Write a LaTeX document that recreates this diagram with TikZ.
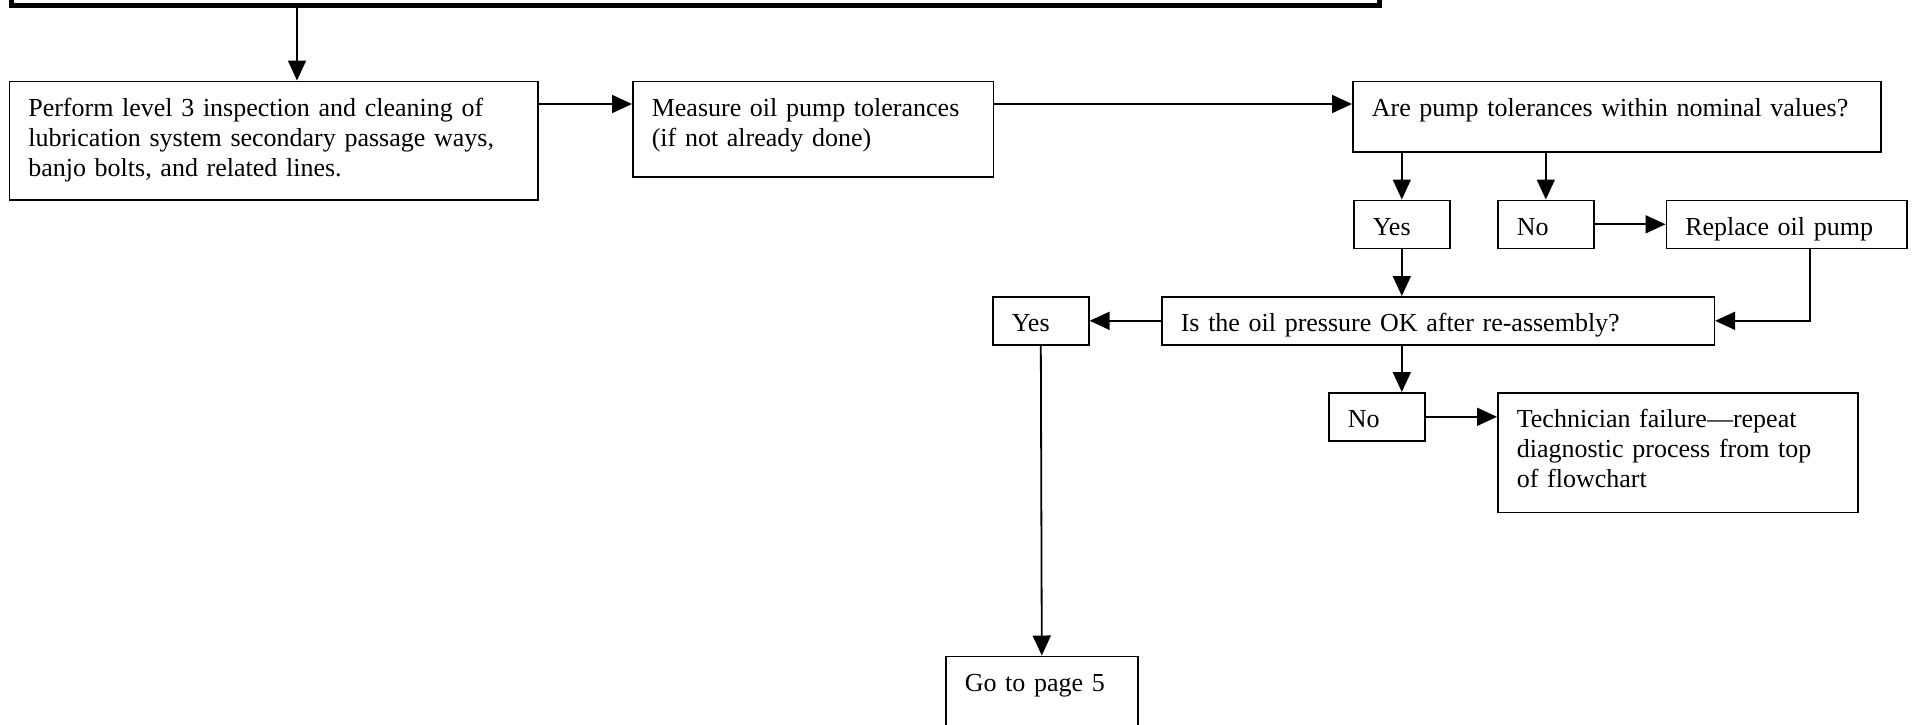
\documentclass[tikz,border=0pt]{standalone}
\usepackage{fontspec}
\setmainfont{Liberation Serif}
\usetikzlibrary{arrows.meta,positioning}

\begin{document}
\begin{tikzpicture}[
	x=0.5pt, y=-0.5pt,
	>={Triangle[length=10pt,width=9pt]},
	every node/.style={font=\fontsize{13}{15}\selectfont},
	box/.style={draw, line width=0.8pt, anchor=north west, inner xsep=9.5pt, inner ysep=0pt, align=left, text height=17.5pt},
	tag/.style={box, text width=29pt, text depth=6.5pt},
	headbox/.style={draw, line width=2.6pt, anchor=south west, minimum width=683.75pt, minimum height=40pt, inner sep=0pt},
	arr/.style={->, line width=0.9pt}
	]
	\clip (0,0) rectangle (1914,724);
	\fill[white] (0,0) rectangle (1914,724);
	
	%--- box cut off at the top ---
	\node[headbox] (head) at (9.2,7.8) {};
	
	%--- first row ---
	\node[box, text width=245.25pt, text depth=41.8pt] (inspect) at (8.5,80.5)
	{Perform level 3 inspection and cleaning of\\lubrication system secondary passage ways,\\banjo bolts, and related lines.};
	\node[box, text width=161.25pt, text depth=30.3pt] (measure) at (632,80.5)
	{Measure oil pump tolerances\\(if not already done)};
	\node[box, text width=245pt, text depth=17.8pt] (tolq) at (1352,80.5)
	{Are pump tolerances within nominal values?};
	
	%--- answers to the tolerance question ---
	\node[tag] (yesA) at (1353,199.5) {Yes};
	\node[tag] (noA) at (1497,199.5) {No};
	\node[box, text width=101.25pt, text depth=6.5pt] (replace) at (1665.5,199.5) {Replace oil pump};
	
	%--- pressure check ---
	\node[box, text width=257.25pt, text depth=6.5pt] (pressq) at (1161,296)
	{Is the oil pressure OK after re-assembly?};
	\node[tag] (yesB) at (992,296) {Yes};
	\node[tag] (noB) at (1328,392) {No};
	\node[box, text width=161pt, text depth=42.25pt] (techfail) at (1497,392)
	{Technician failure---repeat\\diagnostic process from top\\of flowchart};
	\node[box, text width=77pt, text depth=60pt] (gopage) at (945,655.5) {Go to page 5};
	
	%--- helper coordinates ---
	\coordinate (feedA) at (297,0);
	\coordinate (rowA) at (0,104);
	\coordinate (backA) at (1810,0);
	
	%--- connectors ---
	\draw[arr] (feedA |- head.south) -- (feedA |- inspect.north);
	\draw[arr] (inspect.east |- rowA) -- (measure.west |- rowA);
	\draw[arr] (measure.east |- rowA) -- (tolq.west |- rowA);
	\draw[arr] (yesA.north |- tolq.south) -- (yesA.north);
	\draw[arr] (noA.north |- tolq.south) -- (noA.north);
	\draw[arr] (noA.east) -- (replace.west);
	\draw[arr] (yesA.south) -- (yesA.south |- pressq.north);
	\draw[arr] (backA |- replace.south) |- (pressq.east);
	\draw[arr] (pressq.west) -- (yesB.east);
	\draw[arr] (yesA.south |- pressq.south) -- (yesA.south |- noB.north);
	\draw[arr] (noB.east) -- (noB.east -| techfail.west);
	\draw[arr] (yesB.south) -- (gopage.north);
	
\end{tikzpicture}
\end{document}
